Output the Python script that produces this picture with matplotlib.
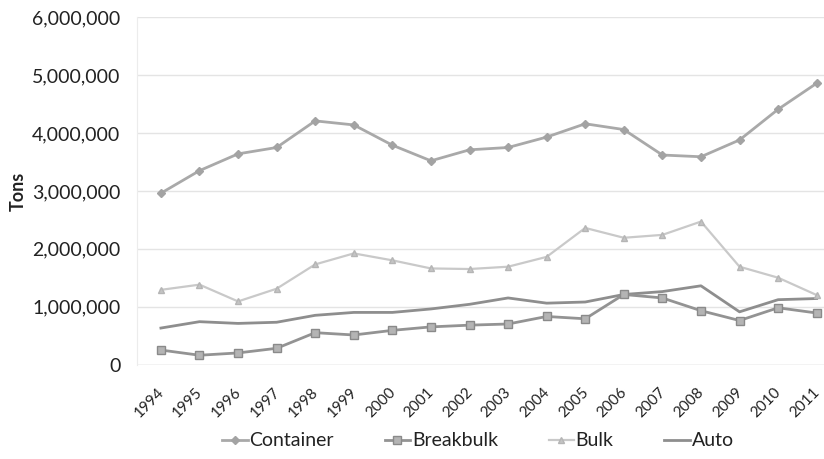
import numpy as np
import matplotlib
matplotlib.use("Agg")
import matplotlib.pyplot as plt
import matplotlib.transforms as mtransforms
from matplotlib.ticker import FuncFormatter

plt.rcParams['font.family'] = ['Lato', 'DejaVu Sans']

years = [str(y) for y in range(1994, 2012)]
container = [2.96, 3.35, 3.64, 3.75, 4.21, 4.14, 3.79, 3.52, 3.71, 3.75,
             3.93, 4.16, 4.06, 3.62, 3.59, 3.88, 4.41, 4.86]
breakbulk = [0.25, 0.16, 0.20, 0.28, 0.55, 0.51, 0.59, 0.65, 0.68, 0.70,
             0.83, 0.79, 1.21, 1.15, 0.93, 0.76, 0.98, 0.89]
bulk = [1.29, 1.38, 1.09, 1.31, 1.73, 1.92, 1.80, 1.66, 1.65, 1.69,
        1.86, 2.36, 2.19, 2.24, 2.47, 1.69, 1.50, 1.20]
auto = [0.63, 0.74, 0.71, 0.73, 0.85, 0.90, 0.90, 0.96, 1.04, 1.15,
        1.06, 1.08, 1.21, 1.26, 1.36, 0.91, 1.12, 1.14]

fig = plt.figure(figsize=(8.24, 4.59), dpi=100)
W, H = 824, 459
ax = fig.add_axes([137 / W, (H - 364.5) / H, (W - 137) / W, (364.5 - 17.3) / H])

x = np.arange(len(years))
scale = 1e6
ax.plot(x, np.array(auto) * scale, color='#8e8e8e', lw=2, label='Auto', zorder=3)
ax.plot(x, np.array(breakbulk) * scale, color='#939393', lw=2, marker='s', ms=5.5,
        mfc='#b4b4b4', mec='#8a8a8a', label='Breakbulk', zorder=4)
ax.plot(x, np.array(bulk) * scale, color='#c9c9c9', lw=1.6, marker='^', ms=5,
        mfc='#c4c4c4', mec='#b5b5b5', label='Bulk', zorder=3)
ax.plot(x, np.array(container) * scale, color='#a9a9a9', lw=2, marker='D', ms=4,
        mfc='#a3a3a3', mec='#a3a3a3', label='Container', zorder=3)

ax.set_xlim(-0.62, 17.19)
ax.set_ylim(0, 6e6)
ax.set_yticks(np.arange(0, 7e6, 1e6))
ax.yaxis.set_major_formatter(FuncFormatter(lambda v, p: f'{int(v):,}'))
ax.grid(axis='y', color='#e4e4e4', lw=1)
ax.set_axisbelow(True)
for s in ['top', 'right', 'bottom']:
    ax.spines[s].set_visible(False)
ax.spines['left'].set_color('#ececec')
ax.tick_params(axis='y', length=0, labelsize=14, colors='#222222', pad=12)
ax.tick_params(axis='x', length=0, pad=15)
ax.set_xticks(x)
ax.set_xticklabels(years, rotation=45, ha='right', va='top', rotation_mode='anchor',
                   fontsize=11, color='#222222')
# nudge year labels a little left, like the original
shift = mtransforms.ScaledTranslation(-4 / 100, 0, fig.dpi_scale_trans)
for lbl in ax.get_xticklabels():
    lbl.set_transform(lbl.get_transform() + shift)
ax.axhline(0, color='#dcdcdc', lw=1)
ax.set_ylabel('Tons', fontsize=13, fontweight='bold', color='#222222')
ax.yaxis.set_label_coords(-110 / (W - 137), 0.5)

handles, labels = ax.get_legend_handles_labels()
order = [3, 1, 2, 0]
fig.legend([handles[i] for i in order], [labels[i] for i in order],
           loc='center', bbox_to_anchor=(478 / W, 1 - 441 / H), ncol=4,
           frameon=False, fontsize=14, handlelength=1.3, handletextpad=0.1,
           columnspacing=2.6, labelcolor='#222222')

fig.savefig('out.png', dpi=100)
